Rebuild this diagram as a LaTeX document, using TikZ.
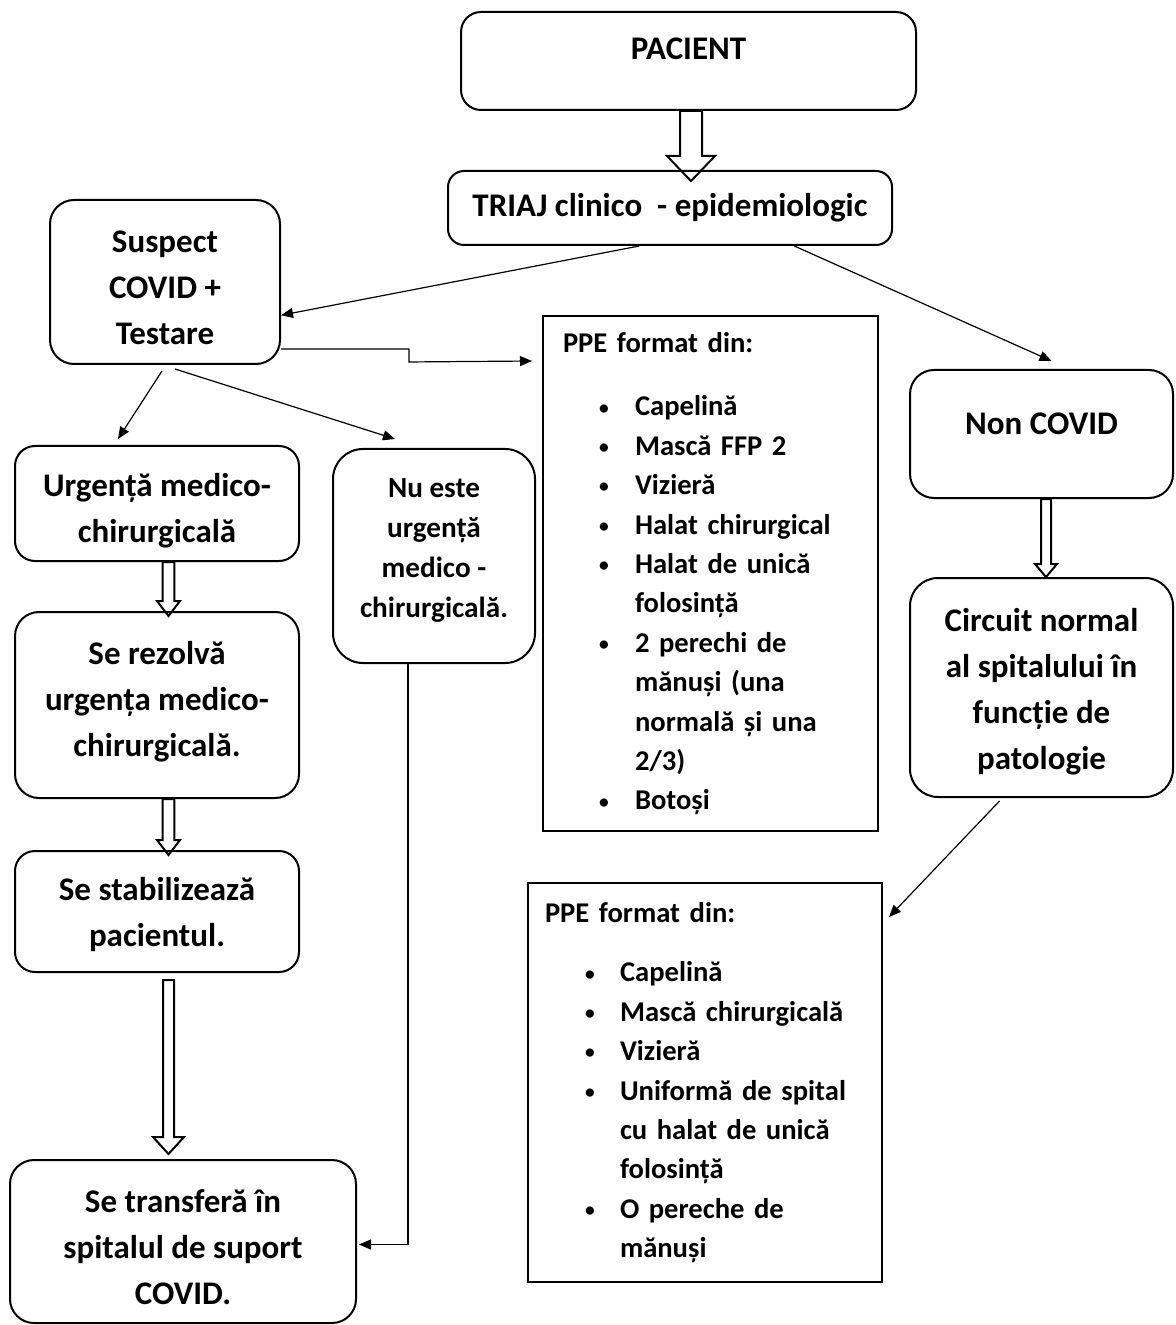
\documentclass[tikz,border=0pt]{standalone}
\usepackage{fontspec}
\usepackage{graphicx}
\setmainfont{Carlito}
\usetikzlibrary{arrows.meta,calc}

% hollow block arrow: from, to, shaft half width, head half width, head length
\newcommand{\blockarrow}[5]{%
  \draw[line width=1pt,line join=miter] let \p1=(#1), \p2=(#2) in
    (\x1-#3,\y1) -- (\x1-#3,\y2+#5) -- (\x1-#4,\y2+#5) -- (\x1,\y2)
    -- (\x1+#4,\y2+#5) -- (\x1+#3,\y2+#5) -- (\x1+#3,\y1) -- cycle;}
\newcommand{\bul}{\makebox[10pt]{\raisebox{0.9pt}{\scalebox{0.68}{\textbullet}}}}

\begin{document}
\begin{tikzpicture}[x=0.5pt,y=-0.5pt,
    box/.style={draw,line width=1pt,rounded corners=10pt,inner sep=0pt,align=center,
      font=\bfseries\fontsize{16.5}{23}\selectfont},
    ppebox/.style={draw,line width=1pt,inner ysep=0pt,align=left,
      font=\bfseries\fontsize{14.3}{19.7}\selectfont},
    conn/.style={line width=0.6pt,-{Triangle[length=6pt,width=5pt]}}
  ]
\useasboundingbox (0,0) rectangle (1175,1325);

% top
\node[box,minimum width=227.5pt,minimum height=49pt,text height=17.1pt,text depth=18.5pt] (pacient) at (688.5,61) {PACIENT};
\node[box,minimum width=222pt,minimum height=37pt,rounded corners=8pt,text height=18.1pt,text depth=9.9pt] (triaj) at (670,208) {TRIAJ clinico~ - epidemiologic};

% left branch
\node[box,minimum width=115pt,minimum height=82pt,rounded corners=12pt,text height=69.1pt,text depth=6.9pt] (suspect) at (165,282) {Suspect\\COVID +\\Testare};
\node[box,minimum width=142pt,minimum height=57.5pt,text height=46.1pt,text depth=6.9pt] (urgenta) at (157,503.5) {Urgență medico-\\chirurgicală};
\node[box,minimum width=101pt,minimum height=107pt,rounded corners=15pt,text height=75pt,text depth=13.5pt,
  font=\bfseries\fontsize{14.6}{20}\selectfont] (nueste) at (434,556) {Nu este\\urgență\\medico -\\chirurgicală.};
\node[box,minimum width=142pt,minimum height=93pt,rounded corners=12pt,text height=65.1pt,text depth=13.4pt] (rezolva) at (157,705) {Se rezolvă\\urgența medico-\\chirurgicală.};
\node[box,minimum width=142pt,minimum height=60.5pt,text height=42.1pt,text depth=6.9pt] (stabil) at (157,911.5) {Se stabilizează\\pacientul.};
\node[box,minimum width=173pt,minimum height=81.5pt,rounded corners=12pt,text height=69.6pt,text depth=6.9pt] (transfer) at (183,1241.5) {Se transferă în\\spitalul de suport\\COVID.};

% right branch
\node[box,minimum width=131.5pt,minimum height=64pt,rounded corners=12pt,text height=18.1pt,text depth=17.9pt] (noncovid) at (1041.5,434) {Non COVID};
\node[box,minimum width=131.5pt,minimum height=109.5pt,rounded corners=14pt,text height=89.1pt,text depth=6.9pt] (circuit) at (1041.5,687.5) {Circuit normal\\al spitalului în\\funcție de\\patologie};

% PPE lists
\node[ppebox,inner xsep=10pt,text width=147.5pt,minimum height=257.5pt] (ppe1) at (710.5,573.5) {%
  \begin{tabular}{@{\hspace{15.5pt}}l@{\hspace{10.5pt}}l@{}}
  \multicolumn{2}{@{}l}{PPE format din:}\\[11.8pt]
  \bul & Capelină\\
  \bul & Mască FFP 2\\
  \bul & Vizieră\\
  \bul & Halat chirurgical\\
  \bul & Halat de unică\\
       & folosință\\
  \bul & 2 perechi de\\
       & mănuși (una\\
       & normală și una\\
       & 2/3)\\
  \bul & Botoși
  \end{tabular}};
\node[ppebox,inner xsep=8.5pt,text width=160pt,minimum height=199.5pt] (ppe2) at (705,1082.5) {%
  \begin{tabular}{@{\hspace{17.5pt}}l@{\hspace{10pt}}l@{}}
  \multicolumn{2}{@{}l}{PPE format din:}\\[9.8pt]
  \bul & Capelină\\
  \bul & Mască chirurgicală\\
  \bul & Vizieră\\
  \bul & Uniformă de spital\\
       & cu halat de unică\\
       & folosință\\
  \bul & O pereche de\\
       & mănuși
  \end{tabular}};

% hollow arrows
\blockarrow{$(pacient.south)+(2.5,0)$}{$(triaj.north)+(21,11)$}{5.5pt}{12pt}{12.5pt}
\blockarrow{$(urgenta.south)+(11.5,0)$}{$(rezolva.north)+(11.5,5)$}{2.9pt}{5.75pt}{7.5pt}
\blockarrow{$(rezolva.south)+(11.5,0)$}{$(stabil.north)+(11.5,5)$}{2.9pt}{5.75pt}{7.5pt}
\blockarrow{$(stabil.south)+(11.5,7)$}{$(transfer.north)+(11.5,-5)$}{2.75pt}{7.75pt}{8.5pt}
\blockarrow{$(noncovid.south)+(4.5,0)$}{$(circuit.north)+(4.5,0)$}{2.5pt}{5.5pt}{6.5pt}

% thin connectors
\coordinate (ppe1in) at ($(ppe1.north west)+(-10,46)$);
\draw[conn] (triaj.231) -- (suspect.-16);
\draw[conn] (triaj.-17) -- ($(noncovid.north)+(10,-8)$);
\draw[conn] (suspect.-30) -- ++(128,0) -- ++(0,13) -- (ppe1in);
\draw[conn] ($(suspect.south)+(-3,6)$) -- ($(urgenta.north)+(-39,-6)$);
\draw[conn] ($(suspect.south)+(10,4)$) -- ($(nueste.north)+(-39,-9)$);
\draw[conn] ($(nueste.south)+(-26,0)$) |- ($(transfer.east)+(2,3)$);
\draw[conn] ($(circuit.south)+(-42,3)$) -- ($(ppe2.north east)+(6,35)$);
\end{tikzpicture}
\end{document}
